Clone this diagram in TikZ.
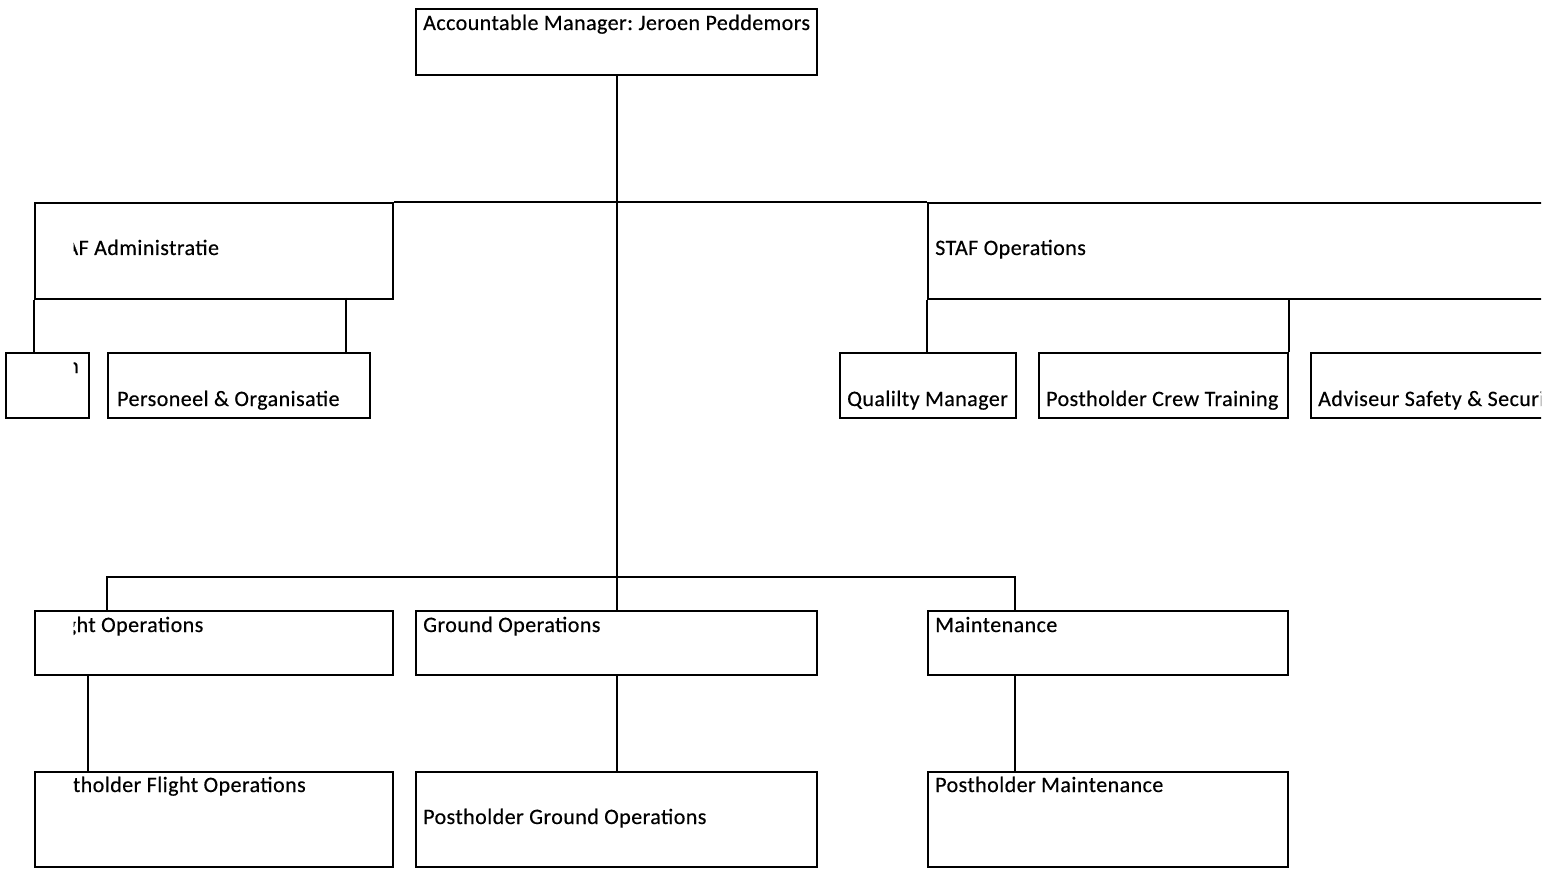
\documentclass[tikz,border=0pt]{standalone}
\usepackage{fontspec}
\setmainfont{Carlito}[LetterSpace=2,FakeBold=0.4]
\usetikzlibrary{calc}
\tikzset{
  box/.style={draw, line width=2pt, inner sep=0pt, anchor=north west},
  conn/.style={line width=2pt},
  lbl/.style={anchor=base west, inner sep=0pt, font=\fontsize{22}{26}\selectfont}
}
\frenchspacing
\begin{document}
\frenchspacing
\begin{tikzpicture}[x=1pt,y=-1pt]
\useasboundingbox[fill=white] (0,0) rectangle (1559,869);
\begin{scope}
\clip (0,0) rectangle (1541,869);
% boxes
\node[box, minimum width=401pt, minimum height=66pt] (top) at (415,8) {};
\node[box, minimum width=358pt, minimum height=96pt] (admin) at (34,202) {};
\node[box, minimum width=700pt, minimum height=96pt] (ops) at (927,202) {};
\node[box, minimum width=83pt, minimum height=65pt] (fin) at (5,352) {};
\node[box, minimum width=262pt, minimum height=65pt] (pers) at (107,352) {};
\node[box, minimum width=176pt, minimum height=65pt] (qm) at (839,352) {};
\node[box, minimum width=249pt, minimum height=65pt] (crew) at (1038,352) {};
\node[box, minimum width=300pt, minimum height=65pt] (adv) at (1310,352) {};
\node[box, minimum width=358pt, minimum height=64pt] (flight) at (34,610) {};
\node[box, minimum width=401pt, minimum height=64pt] (ground) at (415,610) {};
\node[box, minimum width=360pt, minimum height=64pt] (maint) at (927,610) {};
\node[box, minimum width=358pt, minimum height=95pt] (pflight) at (34,771) {};
\node[box, minimum width=401pt, minimum height=95pt] (pground) at (415,771) {};
\node[box, minimum width=360pt, minimum height=95pt] (pmaint) at (927,771) {};
% connectors
\coordinate (busL) at (107,577);
\coordinate (busR) at (1015,577);
\coordinate (admR) at (346,298);
\coordinate (flD) at (88,674);
\draw[conn] (top.south) -- (ground.north);
\draw[conn] (admin.north east) -- (ops.north west);
\draw[conn] (admin.south west) -- (admin.south west |- fin.north);
\draw[conn] (admR) -- (admR |- pers.north);
\draw[conn] (ops.south west) -- (ops.south west |- qm.north);
\draw[conn] (crew.north east |- ops.south) -- (crew.north east);
\draw[conn] (busL |- flight.north) -- (busL) -- (busR) -- (busR |- maint.north);
\draw[conn] (flD) -- (flD |- pflight.north);
\draw[conn] (ground.south) -- (pground.north);
\draw[conn] (busR |- maint.south) -- (busR |- pmaint.north);
% labels
\node[lbl] (ttop) at (423,30) {Accountable Manager: Jeroen Peddemors};
\node[lbl] (tops) at (935,255) {STAF Operations};
\node[lbl] (tpers) at (117,406) {Personeel \& Organisatie};
\node[lbl] (tqm) at (847,406) {Qualilty Manager};
\node[lbl] (tcrew) at (1046,406) {Postholder Crew Training};
\node[lbl] (tadv) at (1318,406) {Adviseur Safety \& Security};
\node[lbl] (tground) at (423,632) {Ground Operations};
\node[lbl] (tmaint) at (935,632) {Maintenance};
\node[lbl] (tpground) at (423,824) {Postholder Ground Operations};
\node[lbl] (tpmaint) at (935,792) {Postholder Maintenance};
\begin{scope}
\clip (73.5,0) rectangle (1541,869);
\node[lbl] (tadmin) at (94,255) {\llap{STAF }Administratie};
\node[lbl] (tflight) at (101,632) {\llap{Flight }Operations};
\node[lbl, anchor=base east] (tpflight) at (306,792) {Postholder Flight Operations};
\node[lbl, anchor=base east] (tfin) at (79,373) {n};
\end{scope}
\end{scope}
\end{tikzpicture}
\end{document}
